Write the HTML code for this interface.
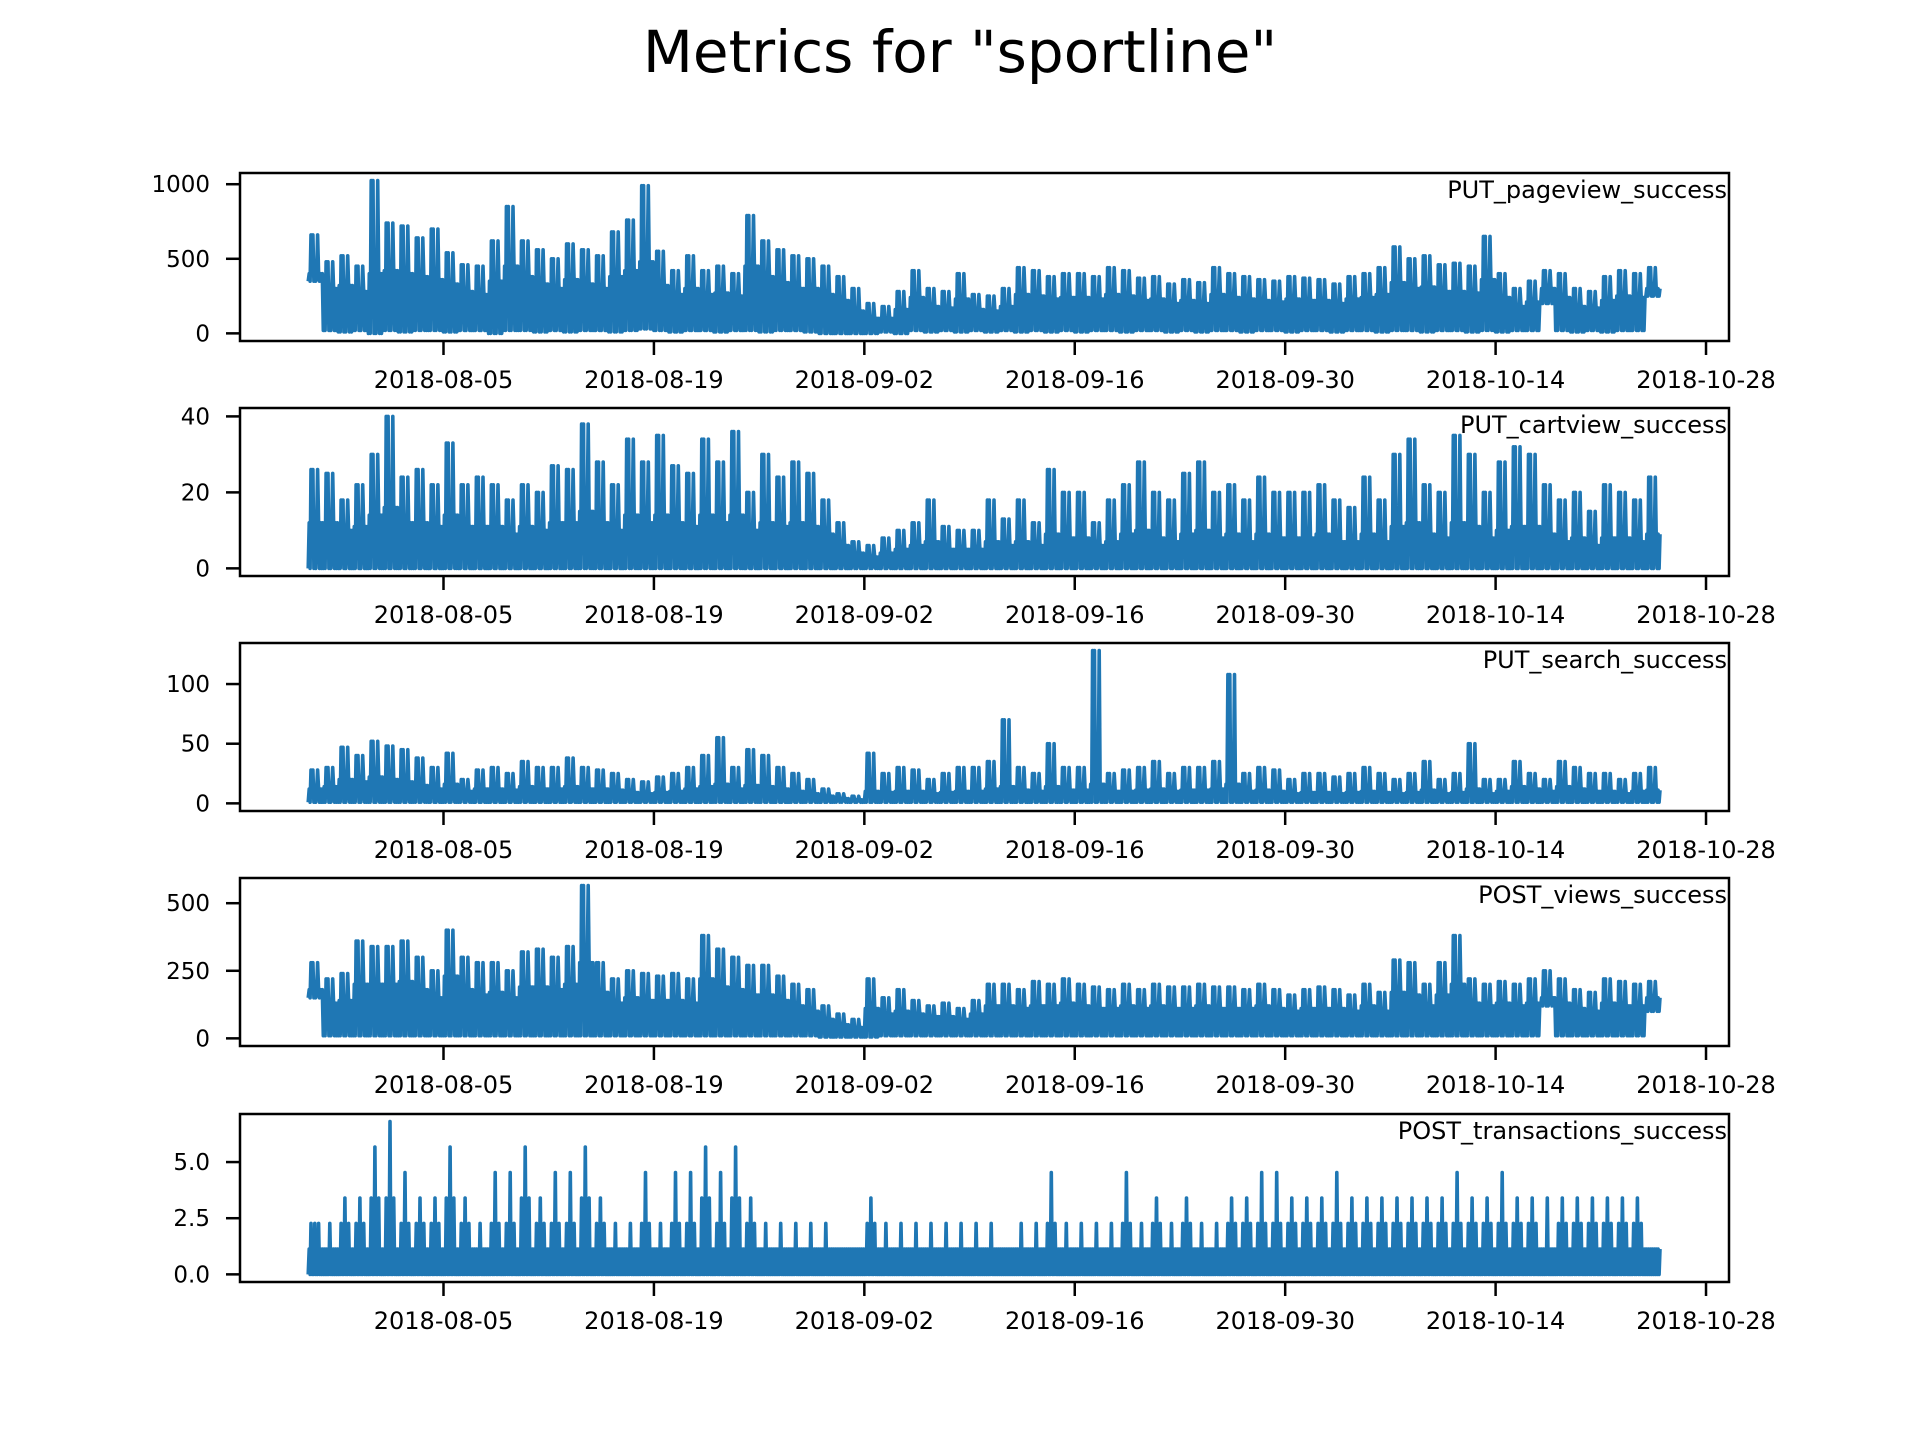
<!DOCTYPE html>
<html><head><meta charset="utf-8"><style>
html,body{margin:0;padding:0;background:#fff;}
svg{display:block;font-family:"DejaVu Sans","Liberation Sans",sans-serif;}
</style></head><body>
<svg id="fig" width="1920" height="1440" viewBox="0 0 1920 1440">
<text x="960" y="72" text-anchor="middle" font-size="58" fill="#000">Metrics for "sportline"</text>
</svg>
<script>
const xTickLabels = ["2018-08-05","2018-08-19","2018-09-02","2018-09-16","2018-09-30","2018-10-14","2018-10-28"];
const xTickDays = [0,14,28,42,56,70,84];
const startDay = -9; // 2018-07-27 relative to 2018-08-05
const seriesNames = ["PUT_pageview_success","PUT_cartview_success","PUT_search_success","POST_views_success","POST_transactions_success"];
const yTicks1 = [0,500,1000];
const yTicks2 = [0,20,40];
const yTicks3 = [0,50,100];
const yTicks4 = [0,250,500];
const yTicks5 = [0.0,2.5,5.0];
const yTickLabels5 = ["0.0","2.5","5.0"];
const highs1 = [660,480,520,450,1024,740,720,640,700, 540,460,450,620,850,620,560, 500,600,560,520,680,760,990, 550,420,520,420,450,400,790, 620,560,520,500,450,380,300, 200,180,280,420,300,280,400, 260,250,300,440,420,380,400, 400,380,440,420,370,380,330, 360,340,440,400,380,360,350, 380,370,360,330,380,400,440, 580,500,520,460,470,450,650, 400,300,350,420,400,300,280, 380,420,400,440];
const lows1 = [350,20,10,20,0,20,10,20,20, 10,20,20,0,20,20,10, 20,10,20,20,10,20,30, 20,10,20,20,10,20,20, 10,20,20,10,0,0,0, 0,10,0,20,10,20,10, 20,10,20,10,20,10,20, 10,20,20,10,20,20,10, 20,10,20,20,10,20,20, 10,20,20,10,20,20,10, 20,20,10,20,20,10,20, 10,20,20,200,20,10,20, 10,20,20,250];
const mids1 = [400,300,320,280,400,420,400,380,360, 330,280,260,350,450,380,330, 300,360,330,300,380,420,480, 320,260,300,260,270,250,450, 380,340,300,300,260,220,150, 100,100,160,240,180,170,230, 160,150,180,260,250,230,240, 240,230,260,250,220,230,200, 220,200,260,240,230,220,210, 230,220,220,200,230,240,260, 340,300,310,280,280,270,360, 240,180,210,300,240,180,170, 220,250,240,300];
const highs2 = [26,25,18,22,30,40,24,26,22, 33,22,24,22,18,22,20, 27,26,38,28,22,34,28, 35,27,25,34,28,36,20, 30,24,28,25,18,12,7, 6,8,10,12,18,11,10, 10,18,13,18,12,26,20, 20,12,18,22,28,20,18, 25,28,20,22,18,24,20, 20,20,22,18,16,24,18, 30,34,22,20,35,30,20, 28,32,30,22,18,20,15, 22,20,18,24];
const lows2 = new Array(90).fill(0);
const mids2 = [12,12,10,11,14,16,12,12,11, 14,11,11,11,9,11,10, 12,12,15,12,10,14,12, 14,12,11,14,12,14,10, 12,11,12,11,9,6,4, 3,4,5,6,7,5,5, 5,7,6,7,6,9,8, 8,6,7,9,10,8,7, 9,10,8,9,7,9,8, 8,8,9,7,7,9,7, 11,12,9,8,12,11,8, 10,11,11,9,7,8,6, 8,8,7,9];
const highs3 = [28,30,47,40,52,48,45,38,30, 42,20,28,30,25,35,30, 30,38,30,28,25,20,18, 22,25,30,40,55,30,45, 40,30,25,20,12,8,6, 42,25,30,28,20,25,30, 30,35,70,30,25,50,30, 30,128,25,28,30,35,25, 30,30,35,108,25,30,28, 20,25,25,22,25,30,25, 20,25,35,20,25,50,20, 20,35,25,20,35,30,25, 25,20,25,30];
const lows3 = new Array(90).fill(1);
const mids3 = [12,14,20,18,22,20,18,15,12, 16,10,12,12,11,14,12, 12,14,12,12,11,9,8, 9,10,12,14,16,12,15, 14,12,10,8,6,4,3, 10,9,10,10,8,9,10, 10,12,14,11,10,14,11, 11,16,10,10,11,12,10, 11,11,12,16,10,11,10, 8,9,9,8,9,10,9, 8,9,11,8,9,12,8, 10,14,12,10,14,12,10, 10,8,10,11];
const highs4 = [280,220,240,360,340,340,360,300,250, 400,300,280,280,250,320,330, 300,340,565,280,220,250,240, 230,240,220,380,330,300,270, 270,230,200,180,120,90,70, 220,150,180,140,120,130,110, 140,200,200,180,210,200,220, 200,190,180,200,180,200,190, 190,200,190,190,180,200,180, 160,180,190,180,160,200,170, 290,280,200,280,380,220,200, 210,200,220,250,220,180,170, 220,210,200,210];
const lows4 = [150,10,10,10,10,10,10,10,10, 10,10,10,10,10,10,10, 10,10,10,10,10,10,10, 10,10,10,10,10,10,10, 10,10,10,10,5,5,5, 5,10,10,10,10,10,10, 10,10,10,10,10,10,10, 10,10,10,10,10,10,10, 10,10,10,10,10,10,10, 10,10,10,10,10,10,10, 10,10,10,10,10,10,10, 10,10,10,120,10,10,10, 10,10,10,100];
const mids4 = [180,130,140,200,200,200,210,180,150, 230,180,160,170,150,190,190, 180,200,280,170,130,150,140, 140,140,130,220,190,180,160, 160,140,120,100,70,50,40, 110,90,100,90,80,80,70, 90,120,120,110,120,120,130, 120,110,110,120,110,120,110, 110,120,110,110,110,120,110, 100,110,110,110,100,120,100, 170,160,120,160,200,130,120, 130,120,130,150,130,110,100, 130,120,120,150];
const highs5 = [2.27,2.27,3.4,3.4,5.67,6.8,4.53,3.4,3.4, 5.67,3.4,2.27,4.53,4.53,5.67,3.4, 4.53,4.53,5.67,3.4,2.27,2.27,4.53, 2.27,4.53,4.53,5.67,4.53,5.67,3.4, 2.27,2.27,2.27,2.27,2.27,1.13,1.13, 3.4,2.27,2.27,2.27,2.27,2.27,2.27, 2.27,2.27,1.13,2.27,2.27,4.53,2.27, 2.27,2.27,2.27,4.53,2.27,3.4,2.27, 3.4,2.27,2.27,3.4,3.4,4.53,4.53, 3.4,3.4,3.4,4.53,3.4,3.4,3.4, 3.4,3.4,3.4,3.4,4.53,3.4,3.4, 4.53,3.4,3.4,3.4,3.4,3.4,3.4, 3.4,3.4,3.4,1.13];
const lows5 = new Array(90).fill(0);
const mids5 = [2.27,1.13,2.27,2.27,3.4,3.4,2.27,2.27,2.27, 3.4,2.27,1.13,2.27,2.27,3.4,2.27, 2.27,2.27,3.4,2.27,1.13,1.13,2.27, 1.13,2.27,2.27,3.4,2.27,3.4,2.27, 1.13,1.13,1.13,1.13,1.13,1.13,1.13, 2.27,1.13,1.13,1.13,1.13,1.13,1.13, 1.13,1.13,1.13,1.13,1.13,2.27,1.13, 1.13,1.13,1.13,2.27,1.13,2.27,1.13, 2.27,1.13,1.13,2.27,2.27,2.27,2.27, 2.27,2.27,2.27,2.27,2.27,2.27,2.27, 2.27,2.27,2.27,2.27,2.27,2.27,2.27, 2.27,2.27,2.27,1.13,2.27,2.27,2.27, 2.27,2.27,2.27,1.13];
const base5 = new Array(90).fill(1.13);

const NS = "http://www.w3.org/2000/svg";
const svg = document.getElementById("fig");
const L = 240, R = 1729, PH = 168;
const tops = [173,408,643,878,1114];
function xScale(d){ return 443.5 + 15.03*d; }
function mk(tag, attrs, parent){ const e=document.createElementNS(NS,tag); for(const k in attrs) e.setAttribute(k,attrs[k]); (parent||svg).appendChild(e); return e; }

const panels = [
 {highs:highs1,lows:lows1,mids:mids1,base:null,ticks:yTicks1,labels:null,max:1024},
 {highs:highs2,lows:lows2,mids:mids2,base:null,ticks:yTicks2,labels:null,max:40.2},
 {highs:highs3,lows:lows3,mids:mids3,base:null,ticks:yTicks3,labels:null,max:128},
 {highs:highs4,lows:lows4,mids:mids4,base:null,ticks:yTicks4,labels:null,max:565},
 {highs:highs5,lows:lows5,mids:mids5,base:base5,ticks:yTicks5,labels:yTickLabels5,max:6.8}
];
panels.forEach((p,i)=>{
  const top = tops[i], bot = top+PH;
  const dmax = Math.max(...p.highs, p.max);
  const lo = -0.05*dmax, hi = dmax*1.05;
  const yScale = v => bot - (v-lo)/(hi-lo)*PH;
  const g = mk("g",{});
  
  
  const pts = [];
  for(let k=0;k<p.highs.length;k++){
    const d = startDay + k;
    const lw = p.lows[k], hg = p.highs[k], md = p.mids[k];
    const b = p.base ? p.base[k] : md;
    const seq = p.base
      ? [lw,b,lw,md,lw,b,lw,hg,lw,b,lw,md,lw,b,lw,b]
      : [lw,md,lw,hg,md,hg,lw,md,lw,md,hg,md,lw,md,lw,md];
    seq.forEach((v,s)=>pts.push([d + s/seq.length, v]));
  }
  const path = mk("polyline",{points:pts.map(q=>xScale(q[0]).toFixed(1)+","+yScale(q[1]).toFixed(1)).join(" "),fill:"none",stroke:"#1f77b4","stroke-width":3.6,"stroke-linejoin":"round"},g);
  
  
  const fr = mk("rect",{x:L,y:top,width:R-L,height:PH,fill:"none",stroke:"#000","stroke-width":2.5},g);
  
  
  p.ticks.forEach((v,j)=>{
    const y = yScale(v);
    mk("line",{x1:L-14,x2:L,y1:y,y2:y,stroke:"#000","stroke-width":2.5},g);
    const t = mk("text",{x:L-30,y:y+8,"text-anchor":"end","font-size":23,fill:"#000"},g);
    t.textContent = p.labels ? p.labels[j] : String(v);
    
    
  });
  xTickDays.forEach((d,j)=>{
    const x = xScale(d);
    mk("line",{x1:x,x2:x,y1:bot,y2:bot+14,stroke:"#000","stroke-width":2.5},g);
    const t = mk("text",{x:x,y:bot+47,"text-anchor":"middle","font-size":24,fill:"#000"},g);
    t.textContent = xTickLabels[j];
    
    
  });
  const lab = mk("text",{x:R-2,y:top+25,"text-anchor":"end","font-size":24,fill:"#000"},g);
  lab.textContent = seriesNames[i];
  
  
});
</script>
</body></html>
